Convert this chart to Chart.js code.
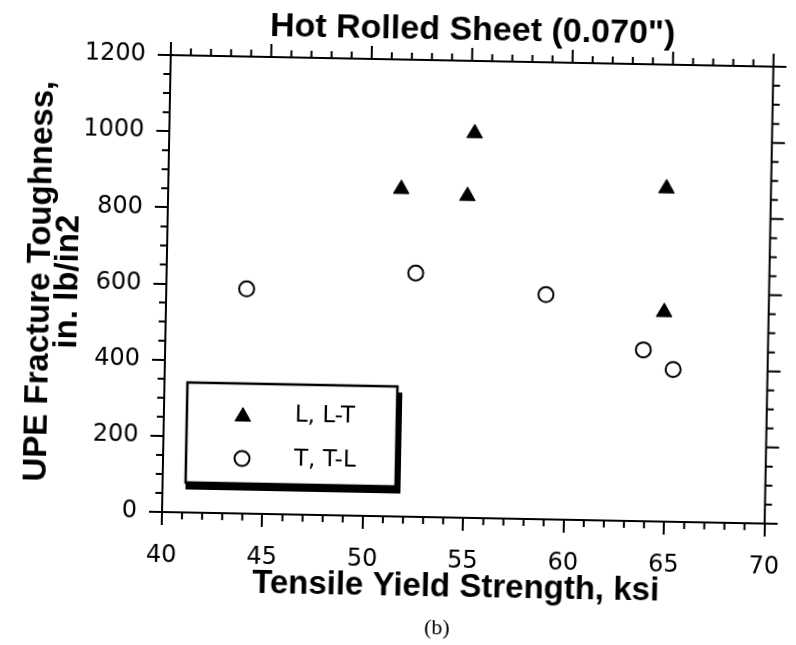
<!DOCTYPE html>
<html>
<head>
<meta charset="utf-8">
<title>Hot Rolled Sheet</title>
<script src="https://cdn.jsdelivr.net/npm/chart.js@4.4.1/dist/chart.umd.min.js"></script>
<style>
  html, body { margin: 0; padding: 0; background: #fff; overflow: hidden; }
  #wrap { width: 796px; height: 645px; }
  /* the printed figure sits slightly skewed on the page */
  #myChart { transform-origin: 162px 512px; transform: rotate(1.1deg); }
</style>
</head>
<body>
<div id="wrap"><canvas id="myChart" width="796" height="645"></canvas></div>
<script>
const chartTitle = 'Hot Rolled Sheet (0.070")';
const xTitle = 'Tensile Yield Strength, ksi';
const yTitle = ['UPE Fracture Toughness,', 'in. lb/in2'];
const caption = '(b)';

// L, L-T orientation
const longLabel = 'L, L-T';
const longYield = [51.6, 55.2, 54.9, 64.8, 64.8];
const longToughness = [860, 1010, 845, 875, 550];

// T, T-L orientation
const transLabel = 'T, T-L';
const transYield = [44.0, 52.4, 58.9, 63.8, 65.3];
const transToughness = [590, 640, 590, 450, 400];

// axis ranges and tick spacing
const xMin = 40, xMax = 70, xMajor = 5, xMinor = 1;
const yMin = 0, yMax = 1200, yMajor = 200, yMinor = 50;

const tickFont = { family: 'DejaVu Sans', size: 24 };
const boldFont = 'Liberation Sans';

Chart.defaults.color = '#000';

// top/right frame lines, ticks on all four sides (majors on bottom/left come from the scales)
const frameTicks = {
  id: 'frameTicks',
  beforeDatasetsDraw(chart) {
    const { ctx, chartArea: a, scales: { x, y } } = chart;
    ctx.save();
    ctx.strokeStyle = '#000';
    ctx.lineWidth = 2;
    ctx.beginPath();
    ctx.moveTo(a.left - 1, a.top);
    ctx.lineTo(a.right, a.top);
    ctx.lineTo(a.right, a.bottom + 1);
    for (let v = xMin; v <= xMax; v += xMinor) {
      const px = x.getPixelForValue(v);
      const major = v % xMajor === 0;
      const len = major ? 13 : 7;
      ctx.moveTo(px, a.top);
      ctx.lineTo(px, a.top - len);
      if (!major) {
        ctx.moveTo(px, a.bottom);
        ctx.lineTo(px, a.bottom + len);
      }
    }
    for (let v = yMin; v <= yMax; v += yMinor) {
      const py = y.getPixelForValue(v);
      const major = v % yMajor === 0;
      const len = major ? 13 : 7;
      ctx.moveTo(a.right, py);
      ctx.lineTo(a.right + len, py);
      if (!major) {
        ctx.moveTo(a.left, py);
        ctx.lineTo(a.left - len, py);
      }
    }
    ctx.stroke();
    ctx.restore();
  }
};

// boxed legend with drop shadow, x-axis title and figure caption
const legendBox = {
  id: 'legendBox',
  afterDraw(chart) {
    const { ctx, chartArea: a } = chart;
    const left = a.left + 23, top = a.bottom - 130, w = 210, h = 100;
    ctx.save();
    ctx.fillStyle = '#fff';
    ctx.fillRect(left, top, w, h);
    ctx.strokeStyle = '#000';
    ctx.lineWidth = 2.5;
    ctx.strokeRect(left, top, w, h);
    ctx.fillStyle = '#000';
    ctx.fillRect(left, top + h, w + 5, 7);
    ctx.fillRect(left + w - 1, top + 6, 6, h + 1);

    ctx.font = '23px "DejaVu Sans"';
    ctx.textBaseline = 'middle';
    ctx.textAlign = 'left';
    chart.data.datasets.forEach((ds, i) => {
      const cy = top + 31 + i * 44;
      ctx.fillStyle = ds.backgroundColor;
      ctx.strokeStyle = ds.borderColor;
      ctx.lineWidth = ds.borderWidth;
      Chart.helpers.drawPoint(ctx, {
        pointStyle: ds.pointStyle,
        radius: ds.pointRadius,
        borderWidth: ds.borderWidth,
        rotation: 0
      }, left + 56, cy + (ds.pointStyle === 'triangle' ? 2 : 0));
      ctx.fillStyle = '#000';
      ctx.fillText(ds.label, left + 108, cy);
    });

    ctx.textAlign = 'center';
    ctx.textBaseline = 'alphabetic';
    ctx.font = 'bold 33px "' + boldFont + '"';
    ctx.fillText(xTitle, 457, 591);
    ctx.font = '22px "Liberation Serif"';
    ctx.fillText(caption, 439, 629);
    ctx.restore();
  }
};

new Chart(document.getElementById('myChart'), {
  type: 'scatter',
  data: {
    datasets: [
      {
        label: longLabel,
        data: longYield.map((v, i) => ({ x: v, y: longToughness[i] })),
        pointStyle: 'triangle',
        pointRadius: 9,
        backgroundColor: '#000',
        borderColor: '#000',
        borderWidth: 1
      },
      {
        label: transLabel,
        data: transYield.map((v, i) => ({ x: v, y: transToughness[i] })),
        pointStyle: 'circle',
        pointRadius: 7.5,
        backgroundColor: '#fff',
        borderColor: '#000',
        borderWidth: 2
      }
    ]
  },
  options: {
    responsive: false,
    animation: false,
    devicePixelRatio: 1,
    layout: { padding: { left: 0, right: 21, top: 0, bottom: 0 } },
    plugins: {
      legend: { display: false },
      tooltip: { enabled: false },
      title: {
        display: true,
        text: chartTitle,
        fullSize: false,
        color: '#000',
        font: { family: boldFont, size: 34, weight: 'bold', lineHeight: 1.0 },
        padding: { top: 8, bottom: 13 }
      }
    },
    scales: {
      x: {
        type: 'linear',
        min: xMin,
        max: xMax,
        afterFit(scale) { scale.height = 133; },
        border: { display: true, color: '#000', width: 2 },
        grid: { display: true, drawOnChartArea: false, drawTicks: true, tickLength: 13, color: '#000', lineWidth: 2 },
        ticks: { stepSize: xMajor, autoSkip: false, maxRotation: 0, padding: 16, color: '#000', font: tickFont }
      },
      y: {
        type: 'linear',
        min: yMin,
        max: yMax,
        afterFit(scale) { scale.width = 162; },
        border: { display: true, color: '#000', width: 2 },
        grid: { display: true, drawOnChartArea: false, drawTicks: true, tickLength: 13, color: '#000', lineWidth: 2 },
        ticks: { stepSize: yMajor, autoSkip: false, padding: 12, color: '#000', font: tickFont, callback: v => String(v) },
        title: {
          display: true,
          text: yTitle,
          color: '#000',
          font: { family: boldFont, size: 33, weight: 'bold', lineHeight: 0.85 },
          padding: { top: 22, bottom: 0 }
        }
      }
    }
  },
  plugins: [frameTicks, legendBox]
});
</script>
</body>
</html>
